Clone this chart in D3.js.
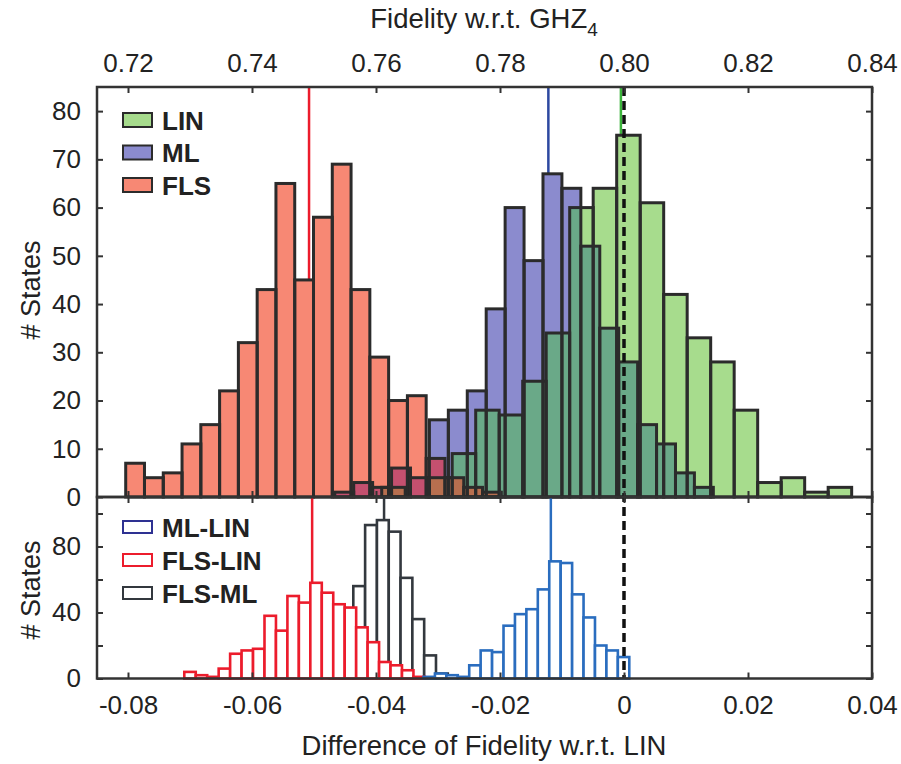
<!DOCTYPE html>
<html>
<head>
<meta charset="utf-8">
<script src="https://cdn.jsdelivr.net/npm/d3@7"></script>
<style>
body { margin: 0; background: #fff; }
text { font-family: "Liberation Sans", Arial, Helvetica, sans-serif; fill: #222; }
</style>
</head>
<body>
<svg id="chart" width="901" height="764"></svg>
<script>
// ---- data (x values are differences of fidelity w.r.t. LIN) ----
// top panel: histograms of fidelity, 20 bins each
var linStart = -0.03908, linWidth = 0.00379;
var linCounts = [2, 0, 4, 9, 18, 17, 24, 34, 60, 64, 75, 61, 42, 33, 28, 18, 3, 4, 1, 2];
var mlStart = -0.04665, mlWidth = 0.003053;
var mlCounts = [1, 3, 2, 6, 4, 16, 18, 22, 39, 60, 49, 67, 64, 52, 35, 28, 15, 11, 5, 2];
var flsStart = -0.08037, flsWidth = 0.003029;
var flsCounts = [7, 4, 5, 11, 15, 22, 32, 43, 65, 45, 58, 69, 43, 29, 20, 21, 8, 4, 2, 1];
var topNames = ['LIN', 'ML', 'FLS'];
var topMeans = [-0.0005, -0.0122, -0.0508];

// bottom panel: histograms of pairwise differences
var mlLinStart = -0.03234, mlLinWidth = 0.001844;
var mlLinCounts = [1, 3, 2, 1, 8, 17, 16, 32, 39, 42, 54, 71, 70, 51, 37, 20, 17, 13, 0];
var flsLinStart = -0.07092, flsLinWidth = 0.001848;
var flsLinCounts = [4, 2, 1, 6, 15, 17, 18, 38, 29, 50, 46, 58, 52, 45, 43, 31, 22, 10, 8, 5, 1];
var flsMlStart = -0.04747, flsMlWidth = 0.001905;
var flsMlCounts = [12, 40, 56, 93, 96, 89, 61, 36, 14, 3];
var bottomNames = ['ML-LIN', 'FLS-LIN', 'FLS-ML'];
var bottomMeans = [-0.0118, -0.0503, -0.0387];

// tick labels
var diffTicks = [-0.08, -0.06, -0.04, -0.02, 0, 0.02, 0.04];
var fidTicks = [0.72, 0.74, 0.76, 0.78, 0.80, 0.82, 0.84];
var topYTicks = [0, 10, 20, 30, 40, 50, 60, 70, 80];
var bottomYTicks = [0, 20, 40, 60, 80, 100];
var bottomYLabels = [0, 40, 80];

// ---- layout ----
var left = 97, right = 872;
var svg = d3.select('#chart');

var x = d3.scaleLinear().domain([-0.085, 0.04]).range([left, right]);
var xFid = d3.scaleLinear().domain([0.715, 0.84]).range([left, right]);
var yTop = d3.scaleLinear().domain([0, 85]).range([497, 87]);
var yBot = d3.scaleLinear().domain([0, 110]).range([678.5, 497]);

var edge = '#2b2b2b';
var fills = { LIN: '#a7dc8d', ML: '#8b8bce', FLS: '#f78874' };
var mixes = { 'ML+LIN': '#6aa988', 'FLS+ML': '#c4506f', 'FLS+LIN': '#b86f4f' };
var meanColors = { LIN: '#3cb43c', ML: '#2c48a0', FLS: '#ec1c2c' };
var lineColors = { 'ML-LIN': '#2a6dbf', 'FLS-LIN': '#ec1c2c', 'FLS-ML': '#33383e' };
var swatchColors = { 'ML-LIN': '#2e3192', 'FLS-LIN': '#ec1c2c', 'FLS-ML': '#33383e' };

//turn start / width / counts into bin objects
function bins(start, width, counts) {
	return counts.map(function(c, i) {
		return { x0: start + i * width, x1: start + (i + 1) * width, n: c };
	});
}

var topBins = {
	LIN: bins(linStart, linWidth, linCounts),
	ML: bins(mlStart, mlWidth, mlCounts),
	FLS: bins(flsStart, flsWidth, flsCounts)
};
var botBins = {
	'ML-LIN': bins(mlLinStart, mlLinWidth, mlLinCounts),
	'FLS-LIN': bins(flsLinStart, flsLinWidth, flsLinCounts),
	'FLS-ML': bins(flsMlStart, flsMlWidth, flsMlCounts)
};

//overlapping part of two histograms
function overlap(a, b) {
	var out = [];
	a.forEach(function(p) {
		b.forEach(function(q) {
			var x0 = Math.max(p.x0, q.x0), x1 = Math.min(p.x1, q.x1);
			var n = Math.min(p.n, q.n);
			if (x1 > x0 && n > 0) out.push({ x0: x0, x1: x1, n: n });
		});
	});
	return out;
}

// ---- top panel ----
var topG = svg.append('g');

topG.selectAll('.mean').data(topNames).enter().append('line')
	.attr('x1', function(d, i) { return x(topMeans[i]); })
	.attr('x2', function(d, i) { return x(topMeans[i]); })
	.attr('y1', yTop(0)).attr('y2', yTop(85))
	.attr('stroke', function(d) { return meanColors[d]; })
	.attr('stroke-width', 2.5);

function drawFill(g, data, color, yS) {
	g.append('g').selectAll('rect').data(data).enter().append('rect')
		.attr('x', function(d) { return x(d.x0); })
		.attr('width', function(d) { return x(d.x1) - x(d.x0); })
		.attr('y', function(d) { return yS(d.n); })
		.attr('height', function(d) { return yS(0) - yS(d.n); })
		.attr('fill', color);
}

['FLS', 'ML', 'LIN'].forEach(function(k) { drawFill(topG, topBins[k], fills[k], yTop); });
drawFill(topG, overlap(topBins.ML, topBins.LIN), mixes['ML+LIN'], yTop);
drawFill(topG, overlap(topBins.FLS, topBins.ML), mixes['FLS+ML'], yTop);
drawFill(topG, overlap(topBins.FLS, topBins.LIN), mixes['FLS+LIN'], yTop);

['FLS', 'ML', 'LIN'].forEach(function(k) {
	topG.append('g').selectAll('rect').data(topBins[k]).enter().append('rect')
		.attr('x', function(d) { return x(d.x0); })
		.attr('width', function(d) { return x(d.x1) - x(d.x0); })
		.attr('y', function(d) { return yTop(d.n); })
		.attr('height', function(d) { return yTop(0) - yTop(d.n); })
		.attr('fill', 'none')
		.attr('stroke', edge)
		.attr('stroke-width', 3);
});

// ---- bottom panel ----
var botG = svg.append('g');

botG.selectAll('.mean').data(bottomNames).enter().append('line')
	.attr('x1', function(d, i) { return x(bottomMeans[i]); })
	.attr('x2', function(d, i) { return x(bottomMeans[i]); })
	.attr('y1', yBot(0)).attr('y2', yBot(110))
	.attr('stroke', function(d) { return lineColors[d]; })
	.attr('stroke-width', 2.5);

['FLS-ML', 'FLS-LIN', 'ML-LIN'].forEach(function(k) {
	botG.append('g').selectAll('rect').data(botBins[k]).enter().append('rect')
		.attr('x', function(d) { return x(d.x0); })
		.attr('width', function(d) { return x(d.x1) - x(d.x0); })
		.attr('y', function(d) { return yBot(d.n); })
		.attr('height', function(d) { return yBot(0) - yBot(d.n); })
		.attr('fill', '#fff')
		.attr('stroke', lineColors[k])
		.attr('stroke-width', 2.6);
});

// dashed zero line across both panels
svg.append('line')
	.attr('x1', x(0)).attr('x2', x(0))
	.attr('y1', yTop(85)).attr('y2', yBot(0))
	.attr('stroke', '#111')
	.attr('stroke-width', 3.5)
	.attr('stroke-dasharray', '9,5');

// ---- axes ----
function styleAxis(g) {
	g.select('.domain').remove();
	g.selectAll('.tick line').attr('stroke', '#333').attr('stroke-width', 2);
	g.selectAll('.tick text').style('font-size', '26px').attr('fill', '#222');
}

svg.append('g').attr('transform', 'translate(0,' + yTop(85) + ')')
	.call(d3.axisTop(xFid).tickValues(fidTicks).tickFormat(d3.format('.2f'))
		.tickSizeInner(-6).tickSizeOuter(0).tickPadding(15))
	.call(styleAxis);
svg.append('g').attr('transform', 'translate(0,' + yTop(0) + ')')
	.call(d3.axisBottom(xFid).tickValues(fidTicks).tickFormat('')
		.tickSizeInner(-6).tickSizeOuter(0))
	.call(styleAxis);
svg.append('g').attr('transform', 'translate(' + left + ',0)')
	.call(d3.axisLeft(yTop).tickValues(topYTicks)
		.tickSizeInner(-6).tickSizeOuter(0).tickPadding(16))
	.call(styleAxis);
svg.append('g').attr('transform', 'translate(' + right + ',0)')
	.call(d3.axisRight(yTop).tickValues(topYTicks).tickFormat('')
		.tickSizeInner(-6).tickSizeOuter(0))
	.call(styleAxis);

svg.append('g').attr('transform', 'translate(0,' + yBot(0) + ')')
	.call(d3.axisBottom(x).tickValues(diffTicks)
		.tickFormat(function(d) { return d === 0 ? '0' : d.toFixed(2); })
		.tickSizeInner(-6).tickSizeOuter(0).tickPadding(17))
	.call(styleAxis);
svg.append('g').attr('transform', 'translate(0,' + yBot(110) + ')')
	.call(d3.axisTop(x).tickValues(diffTicks).tickFormat('')
		.tickSizeInner(-6).tickSizeOuter(0))
	.call(styleAxis);
svg.append('g').attr('transform', 'translate(' + left + ',0)')
	.call(d3.axisLeft(yBot).tickValues(bottomYTicks)
		.tickFormat(function(d) { return bottomYLabels.indexOf(d) >= 0 ? d : ''; })
		.tickSizeInner(-6).tickSizeOuter(0).tickPadding(16))
	.call(styleAxis);
svg.append('g').attr('transform', 'translate(' + right + ',0)')
	.call(d3.axisRight(yBot).tickValues(bottomYTicks).tickFormat('')
		.tickSizeInner(-6).tickSizeOuter(0))
	.call(styleAxis);

// frames
[[yTop(85), yTop(0)], [yBot(110), yBot(0)]].forEach(function(p) {
	svg.append('rect')
		.attr('x', left).attr('y', p[0])
		.attr('width', right - left).attr('height', p[1] - p[0])
		.attr('fill', 'none').attr('stroke', '#333').attr('stroke-width', 2.5);
});

// ---- titles ----
var t = svg.append('text').attr('x', 484).attr('y', 28)
	.attr('text-anchor', 'middle').style('font-size', '27.5px')
	.text('Fidelity w.r.t. GHZ');
t.append('tspan').attr('dy', 8).style('font-size', '19px').text('4');

svg.append('text').attr('x', 484).attr('y', 755)
	.attr('text-anchor', 'middle').style('font-size', '27.5px')
	.text('Difference of Fidelity w.r.t. LIN');

[[290], [590]].forEach(function(p) {
	svg.append('text')
		.attr('transform', 'translate(40,' + p[0] + ') rotate(-90)')
		.attr('text-anchor', 'middle').style('font-size', '27px')
		.text('# States');
});

// ---- legends ----
var legTop = svg.append('g');
topNames.forEach(function(k, i) {
	legTop.append('rect')
		.attr('x', 123).attr('y', 113 + i * 32.5)
		.attr('width', 29).attr('height', 14)
		.attr('fill', fills[k]).attr('stroke', edge).attr('stroke-width', 2);
	legTop.append('text')
		.attr('x', 162).attr('y', 129.5 + i * 32.5)
		.style('font-size', '26px').style('font-weight', 'bold')
		.text(k);
});

var legBot = svg.append('g');
bottomNames.forEach(function(k, i) {
	legBot.append('rect')
		.attr('x', 123).attr('y', 521 + i * 33)
		.attr('width', 29).attr('height', 12)
		.attr('fill', '#fff').attr('stroke', swatchColors[k]).attr('stroke-width', 2);
	legBot.append('text')
		.attr('x', 162).attr('y', 537 + i * 33)
		.style('font-size', '26px').style('font-weight', 'bold')
		.text(k);
});
</script>
</body>
</html>
